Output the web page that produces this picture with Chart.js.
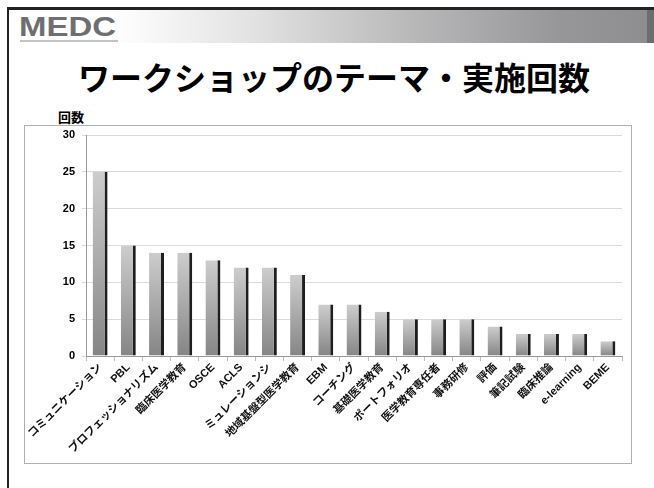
<!DOCTYPE html>
<html lang="ja">
<head>
<meta charset="utf-8">
<script src="https://cdn.jsdelivr.net/npm/chart.js@4"></script>
<style>
  html, body { margin: 0; padding: 0; background: #fff; }
  body { width: 654px; height: 488px; position: relative; overflow: hidden;
         font-family: "Liberation Sans", "Noto Sans CJK JP", sans-serif; }
  .edge-top { position: absolute; left: 7px; top: 7px; width: 647px; height: 3px; background: #222; }
  .edge-left { position: absolute; left: 7px; top: 7px; width: 2px; height: 481px; background: #222; }
  .header { position: absolute; left: 9px; top: 10px; width: 645px; height: 33px;
            background: linear-gradient(to right, #fff 16%, #e2e2e2 38%, #b9b9ba 62%, #97979a 85%, #8d8d90 100%); }
  .header-end { position: absolute; left: 647px; top: 10px; width: 7px; height: 33px; background: #6d6d70; }
  .logo { position: absolute; left: 19px; top: 12px; font: bold 27px "Liberation Sans", Arial, sans-serif;
          color: #6f6f72; transform: scaleX(1.22); transform-origin: left; }
  .logo-sub { position: absolute; left: 20px; top: 40px; width: 98px; height: 2px; background: #c4c4c4; }
  .title { position: absolute; left: 7px; width: 654px; top: 53px; text-align: center;
           font: bold 32px "Noto Sans CJK JP", sans-serif; color: #000; }
  .frame { position: absolute; left: 24px; top: 125px; width: 606px; height: 337px; border: 1px solid #b0b0b0; }
  .ylabel { position: absolute; left: 58px; top: 107px; font: bold 13px "Noto Sans CJK JP", sans-serif; color: #000; }
  .chart-box { position: absolute; left: 24px; top: 105px; width: 607px; height: 358px; }
</style>
</head>
<body>
<div class="header"></div>
<div class="header-end"></div>
<div class="edge-top"></div>
<div class="edge-left"></div>
<div class="logo">MEDC</div>
<div class="logo-sub"></div>
<div class="title">ワークショップのテーマ・実施回数</div>
<div class="frame"></div>
<div class="ylabel">回数</div>
<div class="chart-box"><canvas id="chart" width="607" height="358"></canvas></div>

<script>
// テーマ別の実施回数
const themes = [
  'コミュニケーション', 'PBL', 'プロフェッショナリズム', '臨床医学教育', 'OSCE', 'ACLS',
  'ミュレーションシ', '地域基盤型医学教育', 'EBM', 'コーチング', '基礎医学教育', 'ポートフォリオ',
  '医学教育専任者', '事務研修', '評価', '筆記試験', '臨床推論', 'e-learning', 'BEME'
];
const counts = [25, 15, 14, 14, 13, 12, 12, 11, 7, 7, 6, 5, 5, 5, 4, 3, 3, 3, 2];
const yTicks = [0, 5, 10, 15, 20, 25, 30];

// 棒ごとに上が明るく下が暗いグラデーション
function barFill(ctx) {
  const chart = ctx.chart;
  const y = chart.scales && chart.scales.y;
  if (!y || typeof ctx.raw !== 'number') return '#a8a8a8';
  const top = y.getPixelForValue(ctx.raw);
  const base = y.getPixelForValue(0);
  if (!isFinite(top) || !isFinite(base) || top === base) return '#a8a8a8';
  const g = chart.ctx.createLinearGradient(0, top, 0, base);
  g.addColorStop(0, '#cdcdcd');
  g.addColorStop(0.5, '#a9a9a9');
  g.addColorStop(1, '#858585');
  return g;
}

new Chart(document.getElementById('chart'), {
  type: 'bar',
  data: {
    labels: themes,
    datasets: [{
      data: counts,
      backgroundColor: barFill,
      borderColor: '#1e1e1e',
      borderWidth: { top: 0, left: 0, bottom: 0, right: 3 },
      borderSkipped: false,
      categoryPercentage: 1,
      barPercentage: 0.53
    }]
  },
  options: {
    responsive: false,
    animation: false,
    layout: { padding: { top: 30, right: 9, left: 0, bottom: 0 } },
    plugins: { legend: { display: false }, tooltip: { enabled: false } },
    scales: {
      x: {
        offset: true,
        grid: { offset: true, drawOnChartArea: false, drawTicks: true, tickLength: 5, color: '#bdbdbd' },
        border: { color: '#9a9a9a' },
        ticks: {
          autoSkip: false, maxRotation: 45, minRotation: 45, padding: 0,
          color: '#111',
          font: { family: '"Liberation Sans", "Noto Sans CJK JP", sans-serif', size: 11, weight: 'bold' }
        },
        afterFit: (scale) => { scale.height = 107; }
      },
      y: {
        min: 0, max: 30,
        afterBuildTicks: (scale) => { scale.ticks = yTicks.map(v => ({ value: v })); },
        grid: { color: '#dadada', tickLength: 4, drawTicks: true },
        border: { color: '#9a9a9a' },
        ticks: {
          padding: 7, color: '#000',
          font: { family: '"Liberation Sans", Arial, sans-serif', size: 11, weight: 'bold' }
        },
        afterFit: (scale) => { scale.width = 62; }
      }
    }
  }
});
</script>
</body>
</html>
